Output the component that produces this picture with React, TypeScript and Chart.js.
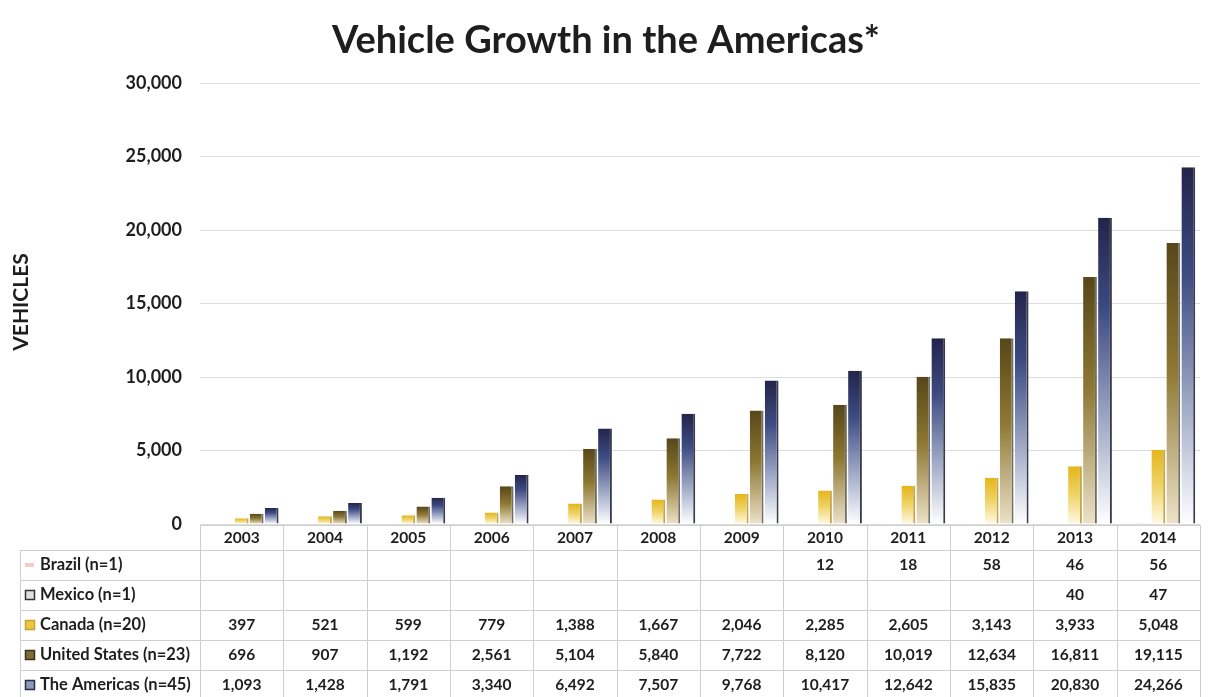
import React, { useEffect, useRef } from "react";
import { Chart, registerables } from "chart.js";

Chart.register(...registerables);

const chartTitle = "Vehicle Growth in the Americas*";
const yAxisTitle = "VEHICLES";
const years = ["2003", "2004", "2005", "2006", "2007", "2008", "2009", "2010", "2011", "2012", "2013", "2014"];
const seriesLabels = ["Brazil (n=1)", "Mexico (n=1)", "Canada (n=20)", "United States (n=23)", "The Americas (n=45)"];
const brazil = [null, null, null, null, null, null, null, 12, 18, 58, 46, 56];
const mexico = [null, null, null, null, null, null, null, null, null, null, 40, 47];
const canada = [397, 521, 599, 779, 1388, 1667, 2046, 2285, 2605, 3143, 3933, 5048];
const unitedStates = [696, 907, 1192, 2561, 5104, 5840, 7722, 8120, 10019, 12634, 16811, 19115];
const americas = [1093, 1428, 1791, 3340, 6492, 7507, 9768, 10417, 12642, 15835, 20830, 24266];
const yMax = 30000;
const yStep = 5000;

const FONT = "Lato, 'Open Sans', 'DejaVu Sans', sans-serif";
const TEXT = "#1e1e1e";

const gradientStops: [number, string][][] = [
  [[0, "#e8a890"], [1, "#fbe6de"]],
  [[0, "#555555"], [1, "#e8e8e8"]],
  [[0, "#e4b51c"], [0.5, "#f0d468"], [1, "#fff9e6"]],
  [[0, "#574719"], [0.45, "#8d7733"], [1, "#ece2c8"]],
  [[0, "#23244a"], [0.3, "#3d4b82"], [0.7, "#a9b2cc"], [1, "#ffffff"]],
];
const edgeColors = ["#c9a090", "#555555", "#c4a648", "#6f6f68", "#3a3a48"];
const swatchFill = ["#f3cdc2", "#e0e0e0", "#ecc83e", "#7d6c34", "#8d98bb"];
const swatchEdge = ["#f3cdc2", "#333333", "#c6a331", "#3a3320", "#2a2d48"];

const makeFill = (stops: [number, string][]) => (ctx: any) => {
  const chart = ctx.chart;
  const ys = chart.scales && chart.scales.y;
  if (!chart.chartArea || !ys || ctx.raw == null) return stops[0][1];
  const top = ys.getPixelForValue(ctx.raw);
  const bot = ys.getPixelForValue(0);
  if (!isFinite(top) || !isFinite(bot) || Math.abs(bot - top) < 1) return stops[0][1];
  const g = chart.ctx.createLinearGradient(0, top, 0, bot);
  stops.forEach(([o, c]) => g.addColorStop(o, c));
  return g;
};

const fmt = (v: number | null) => (v == null ? "" : v.toLocaleString("en-US"));

const decorPlugin = {
  id: "decor",
  afterDraw(chart: any) {
    const ctx = chart.ctx as CanvasRenderingContext2D;
    const xs = chart.scales.x;
    const ys = chart.scales.y;
    const area = chart.chartArea;
    const allSeries = [brazil, mexico, canada, unitedStates, americas];
    ctx.save();
    // title
    ctx.fillStyle = TEXT;
    ctx.font = `bold 38px ${FONT}`;
    ctx.textAlign = "center";
    ctx.textBaseline = "middle";
    ctx.fillText(chartTitle, chart.width / 2 + 2, 41);
    // y title
    ctx.save();
    ctx.translate(21, 302);
    ctx.rotate(-Math.PI / 2);
    ctx.font = `bold 21px ${FONT}`;
    ctx.fillText(yAxisTitle, 0, 0);
    ctx.restore();

    // table
    const left = area.left;
    const right = area.right;
    const colW = (right - left) / years.length;
    const headerTop = ys.getPixelForValue(0) + 1;
    const headerBottom = headerTop + 25;
    const rowH = 30;
    const labelLeft = 20;
    const tableBottom = headerBottom + rowH * seriesLabels.length;
    ctx.strokeStyle = "#cfcfcf";
    ctx.lineWidth = 1;
    ctx.beginPath();
    ctx.moveTo(left, headerTop + 0.5);
    ctx.lineTo(right, headerTop + 0.5);
    for (let r = 0; r <= seriesLabels.length; r++) {
      const yy = Math.round(headerBottom + r * rowH) + 0.5;
      ctx.moveTo(labelLeft, yy);
      ctx.lineTo(right, yy);
    }
    for (let c = 0; c <= years.length; c++) {
      const xx = Math.round(left + c * colW) + 0.5;
      ctx.moveTo(xx, headerTop);
      ctx.lineTo(xx, tableBottom);
    }
    ctx.moveTo(labelLeft + 0.5, headerBottom);
    ctx.lineTo(labelLeft + 0.5, tableBottom);
    ctx.stroke();

    ctx.fillStyle = TEXT;
    ctx.font = `bold 15.5px ${FONT}`;
    ctx.textAlign = "center";
    ctx.textBaseline = "middle";
    years.forEach((yr, i) => {
      ctx.fillText(yr, xs.getPixelForValue(i), (headerTop + headerBottom) / 2);
    });
    seriesLabels.forEach((lab, r) => {
      const cy = headerBottom + r * rowH + rowH / 2;
      if (r === 0) {
        ctx.fillStyle = swatchFill[r];
        ctx.fillRect(25, cy - 2, 9, 4);
      } else {
        ctx.fillStyle = swatchFill[r];
        ctx.fillRect(25, cy - 5, 10, 10);
        ctx.strokeStyle = swatchEdge[r];
        ctx.lineWidth = 1.5;
        ctx.strokeRect(25.5, cy - 4.5, 9, 9);
      }
      ctx.fillStyle = TEXT;
      ctx.textAlign = "left";
      ctx.font = `bold 16.5px ${FONT}`;
      ctx.fillText(lab, 40, cy);
      ctx.textAlign = "center";
      ctx.font = `bold 15.5px ${FONT}`;
      allSeries[r].forEach((v, i) => {
        ctx.fillText(fmt(v), xs.getPixelForValue(i), cy);
      });
    });
    ctx.restore();
  },
};

export default function App() {
  const ref = useRef<HTMLCanvasElement | null>(null);
  useEffect(() => {
    if (!ref.current) return;
    const allSeries = [brazil, mexico, canada, unitedStates, americas];
    const chart = new Chart(ref.current, {
      type: "bar",
      data: {
        labels: years,
        datasets: allSeries.map((d, i) => ({
          label: seriesLabels[i],
          data: d,
          backgroundColor: makeFill(gradientStops[i]),
          borderColor: edgeColors[i],
          borderWidth: { top: 0, left: 0, bottom: 0, right: 2 },
          categoryPercentage: 0.9,
          barPercentage: 0.92,
        })),
      },
      options: {
        animation: false,
        responsive: true,
        maintainAspectRatio: false,
        layout: { padding: { left: 0, right: 8, top: 83, bottom: 173 } },
        plugins: {
          legend: { display: false },
          title: { display: false },
          tooltip: { enabled: false },
        },
        scales: {
          x: {
            display: false,
            grid: { display: false },
          },
          y: {
            min: 0,
            max: yMax,
            afterFit: (s: any) => {
              s.width = 200;
            },
            border: { display: false },
            grid: { color: "#dcdcdc", lineWidth: 1, drawTicks: false },
            ticks: {
              stepSize: yStep,
              padding: 18,
              color: TEXT,
              font: { family: FONT, size: 18, weight: "bold" },
              callback: (v: any) => Number(v).toLocaleString("en-US"),
            },
          },
        },
      },
      plugins: [decorPlugin],
    });
    return () => chart.destroy();
  }, []);
  return (
    <div style={{ position: "fixed", left: 0, top: 0, width: 1208, height: 697, background: "#fff" }}>
      <canvas ref={ref} />
    </div>
  );
}
